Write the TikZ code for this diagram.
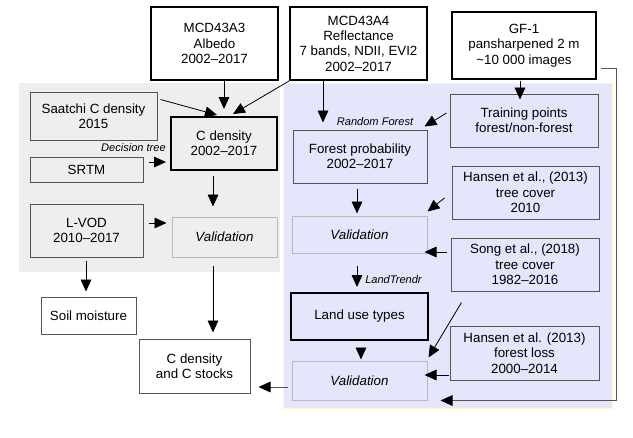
\documentclass[tikz,border=0pt]{standalone}
\usepackage{fontspec}
\setmainfont{Liberation Sans}
\usetikzlibrary{arrows.meta}
\definecolor{bgGray}{RGB}{238,238,238}
\definecolor{bgBlue}{RGB}{229,229,251}
\definecolor{edgeYellow}{RGB}{250,250,205}
\definecolor{lineGray}{RGB}{85,85,85}
\definecolor{validGray}{RGB}{185,185,185}

\begin{document}
\begin{tikzpicture}
[x=0.75pt,y=-0.75pt,
  boxDecorate/.style={shape=rectangle,inner sep=1pt,align=center,font=\fontsize{10}{11.5}\selectfont},%
  thickDecorate/.style={boxDecorate,draw=black,line width=1.5pt},%
  thinDecorate/.style={boxDecorate,draw=lineGray,line width=0.75pt},%
  validDecorate/.style={boxDecorate,draw=validGray,line width=0.75pt,font=\fontsize{10}{11.5}\selectfont\itshape},%
  labelDecorate/.style={inner sep=0pt,font=\fontsize{8.3}{10}\selectfont\itshape},%
  arrowDecorate/.style={-{Triangle[length=9pt,width=8pt,color=black]},line width=0.6pt}]
\useasboundingbox (0,0) rectangle (633,437);
%% backgrounds
\fill[bgGray] (19,83) rectangle (280,272);
\filldraw[fill=bgBlue,draw=edgeYellow,line width=0.75pt] (283,83) rectangle (612,408);
%% boxes
\foreach \nodename/\x/\y/\w/\h/\kind/\txt in {
  mcdA/214.5/43.5/127/73/thickDecorate/{MCD43A3\\Albedo\\2002–2017},
  mcdB/358.5/43.5/137/73/thickDecorate/{MCD43A4\\Reflectance\\7 bands, NDII, EVI2\\2002–2017},
  gf/524/45.5/144/67/thickDecorate/{GF-1\\pansharpened 2 m\\\textasciitilde10 000 images},
  saatchi/93.5/116/127/48/thinDecorate/{Saatchi C density\\2015},
  cdens/224/143.5/106/53/thickDecorate/{C density\\2002–2017},
  srtm/86.5/169.5/113/25/thinDecorate/{SRTM},
  lvod/86.5/230.5/113/53/thinDecorate/{L-VOD\\2010–2017},
  valC/224.5/237/105/40/validDecorate/{Validation},
  soil/88.5/315.5/95/37/thinDecorate/{Soil moisture},
  stocks/194.5/366/111/54/thinDecorate/{C density\\and C stocks},
  train/524/120.5/148/53/thinDecorate/{Training points\\forest/non-forest},
  fprob/360/156.5/134/53/thinDecorate/{Forest probability\\2002–2017},
  hanA/525.5/192.5/147/53/thinDecorate/{Hansen et al., (2013)\\tree cover\\2010},
  valA/359.5/234.5/135/37/validDecorate/{Validation},
  song/525/264.5/148/53/thinDecorate/{Song et al., (2018)\\tree cover\\1982–2016},
  landuse/359.5/316.5/137/47/thickDecorate/{Land use types},
  hanB/524.5/353/149/54/thinDecorate/{Hansen et al. (2013)\\forest loss\\2000–2014},
  valB/359.5/380.5/135/39/validDecorate/{Validation}}
{
  \node[\kind,minimum width=\w*0.75pt,minimum height=\h*0.75pt] (\nodename) at (\x,\y) {\txt};
}
%% labels
\node[labelDecorate,anchor=east] (dtree) at ([shift={(-4,4)}]cdens.west) {Decision tree};
\node[labelDecorate] (rforest) at ([shift={(15,-8)}]fprob.north) {Random Forest};
\node[labelDecorate,anchor=west] (ltrendr) at ([shift={(5.5,-12)}]landuse.north) {LandTrendr};
%% arrows
\draw[arrowDecorate] (cdens.north |- mcdA.south) -- ([shift={(0,-7)}]cdens.north);
\draw[arrowDecorate] ([shift={(3,8)}]saatchi.north east) -- ([shift={(-7,-1)}]cdens.north);
\draw[arrowDecorate] (mcdB.south west) -- ([shift={(9,-2)}]cdens.north);
\draw[arrowDecorate] ([shift={(5,-7.5)}]srtm.east) -- ([shift={(-4,18.5)}]cdens.west);
\draw[arrowDecorate] ([shift={(-11,5)}]cdens.south) -- ([shift={(-11.5,-10)}]valC.north);
\draw[arrowDecorate] ([shift={(5,-7.5)}]lvod.east) -- ([shift={(-5,-14)}]valC.west);
\draw[arrowDecorate] ([shift={(-0.5,3)}]lvod.south) -- ([shift={(-2.5,-5)}]soil.north);
\draw[arrowDecorate] ([shift={(-11.5,8)}]valC.south) -- ([shift={(18.5,-6)}]stocks.north);
\draw[arrowDecorate,draw=lineGray] ([shift={(-4,6.5)}]valB.west) -- ([shift={(8,21)}]stocks.east);
\draw[arrowDecorate] ([shift={(-35.5,0)}]mcdB.south) -- ([shift={(-37,-7)}]fprob.north);
\draw[arrowDecorate] ([shift={(-4,1)}]gf.south) -- ([shift={(-4,6)}]train.north);
\draw[arrowDecorate] ([shift={(-3,-7.5)}]train.west) -- ([shift={(-3,-3)}]fprob.north east);
\draw[arrowDecorate] ([shift={(-7,5.5)}]hanA.west) -- ([shift={(0,-4)}]valA.north east);
\draw[arrowDecorate] ([shift={(-3,5)}]fprob.south) -- ([shift={(-2.5,-2)}]valA.north);
\draw[arrowDecorate] ([shift={(-4,-12.5)}]song.west) -- ([shift={(-3,17.5)}]valA.east);
\draw[arrowDecorate] ([shift={(-2.5,12)}]valA.south) -- ([shift={(-2.5,-5)}]landuse.north);
\draw[arrowDecorate] ([shift={(1.5,7)}]landuse.south) -- ([shift={(1.5,-1)}]valB.north);
\draw[arrowDecorate] ([shift={(11,11)}]song.south west) -- ([shift={(1,-3)}]valB.north east);
\draw[arrowDecorate] ([shift={(-1,22)}]hanB.west) -- ([shift={(-3,-5.5)}]valB.east);
\draw[arrowDecorate,draw=lineGray] ([shift={(4,22.5)}]gf.east) -- ++(15,0) |- ([shift={(13,0)}]valB.south east);
\end{tikzpicture}
\end{document}
